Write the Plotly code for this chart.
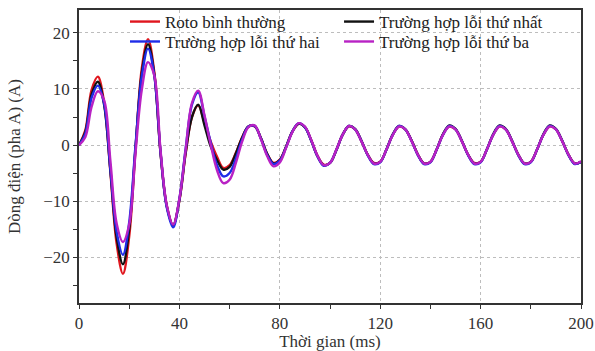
import plotly.graph_objects as go

t_ms = [0, 2.5, 5, 7.5, 10, 12.5, 15, 17.5, 20, 22.5, 25, 27.5, 30, 32.5, 35, 37.5,
        40, 42.5, 45, 47.5, 50, 52.5, 55, 57.5, 60, 62.5, 65, 67.5, 70, 72.5, 75, 77.5,
        80, 82.5, 85, 87.5, 90, 92.5, 95, 97.5, 100, 102.5, 105, 107.5, 110, 112.5, 115, 117.5,
        120, 122.5, 125, 127.5, 130, 132.5, 135, 137.5, 140, 142.5, 145, 147.5, 150, 152.5, 155, 157.5,
        160, 162.5, 165, 167.5, 170, 172.5, 175, 177.5, 180, 182.5, 185, 187.5, 190, 192.5, 195, 197.5, 200]

roto_binh_thuong = [0, 2.6, 9.8, 12.2, 7.6, -4.8, -17.6, -23.0, -16.3, -0.9, 13.6, 18.9, 13.0, -1.5, -10.9, -14.3,
                    -9.9, -1.5, 5.0, 7.1, 4.0, 0.6, -2.1, -4.1, -3.6, -1.4, 1.4, 3.3, 3.3, 1.2, -1.6, -3.2,
                    -2.6, -0.3, 2.4, 3.8, 3.2, 0.9, -1.9, -3.5, -3.2, -0.9, 1.8, 3.3, 2.8, 0.7, -1.7, -3.2,
                    -3.0, -0.8, 1.8, 3.3, 2.8, 0.8, -1.7, -3.3, -3.0, -0.8, 1.9, 3.3, 2.8, 0.7, -1.7, -3.2,
                    -3.0, -0.8, 1.8, 3.3, 2.8, 0.7, -1.7, -3.3, -3.0, -0.8, 1.8, 3.3, 2.8, 0.7, -1.7, -3.3, -3.0]

loi_thu_nhat = [0, 2.3, 9.0, 11.3, 7.2, -4.5, -16.5, -21.3, -15.0, -0.6, 12.8, 18.0, 12.6, -1.5, -11.0, -14.3,
                -9.8, -1.3, 5.0, 7.2, 3.5, -0.3, -2.7, -4.4, -3.9, -1.5, 1.3, 3.3, 3.4, 1.2, -1.6, -3.3,
                -2.7, -0.3, 2.4, 3.8, 3.2, 0.8, -2.0, -3.6, -3.2, -1.0, 1.8, 3.4, 2.9, 0.8, -1.7, -3.3,
                -3.0, -0.8, 1.9, 3.4, 2.8, 0.8, -1.7, -3.3, -3.0, -0.8, 1.9, 3.5, 2.9, 0.8, -1.7, -3.3,
                -3.0, -0.8, 1.9, 3.5, 2.9, 0.8, -1.7, -3.3, -3.0, -0.8, 1.9, 3.5, 2.9, 0.8, -1.7, -3.3, -3.0]

loi_thu_hai = [0, 2.0, 8.4, 10.6, 7.4, -4.3, -15.5, -19.6, -13.8, -0.2, 12.2, 17.2, 12.4, -1.3, -11.2, -14.7,
               -9.6, -0.6, 7.2, 9.4, 5.1, 0.4, -3.6, -5.6, -5.0, -2.4, 1.0, 3.3, 3.4, 1.1, -1.8, -3.4,
               -2.8, -0.4, 2.4, 3.9, 3.2, 0.8, -2.0, -3.7, -3.2, -0.9, 1.8, 3.4, 2.8, 0.7, -1.8, -3.4,
               -3.1, -0.8, 1.8, 3.4, 2.8, 0.7, -1.8, -3.4, -3.1, -0.8, 1.8, 3.4, 2.8, 0.7, -1.8, -3.4,
               -3.1, -0.8, 1.8, 3.4, 2.8, 0.7, -1.8, -3.4, -3.1, -0.8, 1.8, 3.4, 2.8, 0.7, -1.8, -3.4, -3.0]

loi_thu_ba = [0, 1.4, 6.8, 9.6, 8.0, -2.8, -14.0, -17.3, -14.2, -1.5, 9.8, 14.8, 12.4, -1.0, -10.8, -14.2,
              -9.6, -0.8, 7.5, 9.7, 5.3, 0.0, -4.5, -6.8, -6.2, -3.2, 0.6, 3.2, 3.5, 1.0, -2.0, -3.8,
              -3.1, -0.5, 2.3, 3.9, 3.3, 0.9, -1.9, -3.6, -3.2, -0.9, 1.8, 3.4, 2.8, 0.7, -1.7, -3.3,
              -3.0, -0.8, 1.8, 3.3, 2.8, 0.7, -1.7, -3.3, -3.0, -0.8, 1.8, 3.3, 2.8, 0.7, -1.7, -3.3,
              -3.0, -0.8, 1.8, 3.3, 2.8, 0.7, -1.7, -3.3, -3.0, -0.8, 1.8, 3.3, 2.8, 0.7, -1.7, -3.3, -2.9]

series = [
    ("Roto bình thường", roto_binh_thuong, "#e0161e", "legend"),
    ("Trường hợp lỗi thứ nhất", loi_thu_nhat, "#111111", "legend2"),
    ("Trường hợp lỗi thứ hai", loi_thu_hai, "#1f2de8", "legend3"),
    ("Trường hợp lỗi thứ ba", loi_thu_ba, "#b822c4", "legend4"),
]

FONT = "Liberation Serif"
fig = go.Figure()
for name, vals, color, lg in series:
    fig.add_trace(go.Scatter(x=t_ms, y=vals, name=name, mode="lines",
                             line=dict(color=color, width=2.4, shape="spline", smoothing=1),
                             legend=lg))

axis_common = dict(showline=True, linecolor="#333333", linewidth=1.6, mirror=True,
                   ticks="outside", ticklen=4, tickwidth=1.2, tickcolor="#333333",
                   showgrid=True, gridcolor="#bdbdbd", griddash="dot", gridwidth=1,
                   zeroline=False, automargin=False,
                   tickfont=dict(family=FONT, size=17, color="#333333"))

fig.update_xaxes(range=[0, 200], dtick=40, tick0=0,
                 minor=dict(dtick=20, ticks="outside", ticklen=4, tickcolor="#333333", showgrid=False),
                 title=dict(text="Thời gian (ms)", font=dict(family=FONT, size=17, color="#333333"), standoff=3),
                 **axis_common)
fig.update_yaxes(range=[-28.2, 24.1], dtick=10, tick0=0,
                 minor=dict(dtick=5, ticks="outside", ticklen=4, tickcolor="#333333", showgrid=False),
                 title=dict(text="Dòng điện (pha A) (A)", font=dict(family=FONT, size=17, color="#333333"), standoff=18),
                 **axis_common)

leg_common = dict(bgcolor="rgba(0,0,0,0)", font=dict(family=FONT, size=17, color="#222222"),
                  xanchor="left", yanchor="middle", orientation="v")
fig.update_layout(
    width=595, height=351,
    margin=dict(l=79, r=14, t=10, b=48, autoexpand=False),
    paper_bgcolor="white", plot_bgcolor="white",
    showlegend=True,
    legend=dict(x=0.0916, y=0.959, **leg_common),
    legend2=dict(x=0.518, y=0.959, **leg_common),
    legend3=dict(x=0.0916, y=0.891, **leg_common),
    legend4=dict(x=0.518, y=0.891, **leg_common),
)

fig.write_html("out.html")
